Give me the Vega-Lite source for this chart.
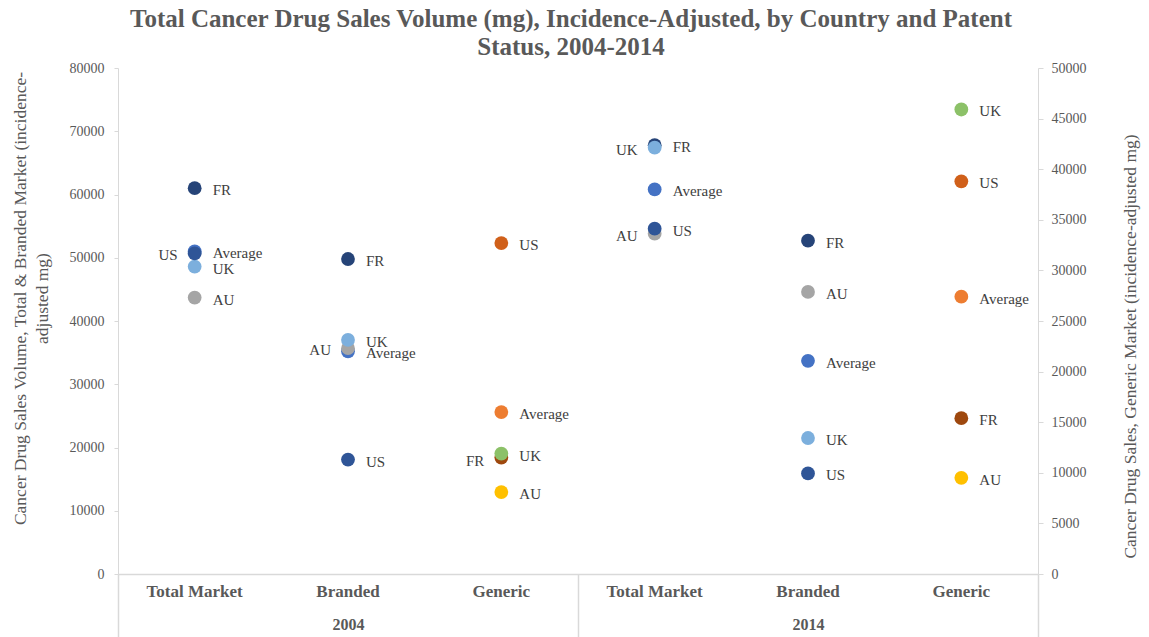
{
  "$schema": "https://vega.github.io/schema/vega-lite/v6.json",
  "width": 920,
  "height": 506,
  "autosize": "none",
  "padding": {"left": 118, "top": 68, "right": 111, "bottom": 63},
  "background": "white",
  "config": {
    "view": {"stroke": null},
    "font": "Liberation Serif",
    "title": {"font": "Liberation Serif", "fontSize": 25, "fontWeight": "bold", "color": "#595959", "lineHeight": 28}
  },
  "title": {
    "text": ["Total Cancer Drug Sales Volume (mg), Incidence-Adjusted, by Country and Patent", "Status, 2004-2014"],
    "anchor": "middle",
    "frame": "group",
    "offset": 1,
    "dx": -7
  },
  "data": {
    "values": [
      {"year": "2004", "market": "Total Market", "country": "Average", "mg": 51000},
      {"year": "2004", "market": "Total Market", "country": "AU", "mg": 43700},
      {"year": "2004", "market": "Total Market", "country": "FR", "mg": 61000},
      {"year": "2004", "market": "Total Market", "country": "UK", "mg": 48600},
      {"year": "2004", "market": "Total Market", "country": "US", "mg": 50700},
      {"year": "2004", "market": "Branded", "country": "Average", "mg": 35200},
      {"year": "2004", "market": "Branded", "country": "AU", "mg": 35700},
      {"year": "2004", "market": "Branded", "country": "FR", "mg": 49800},
      {"year": "2004", "market": "Branded", "country": "UK", "mg": 37000},
      {"year": "2004", "market": "Branded", "country": "US", "mg": 18100},
      {"year": "2004", "market": "Generic", "country": "Average", "mg": 16000},
      {"year": "2004", "market": "Generic", "country": "AU", "mg": 8100},
      {"year": "2004", "market": "Generic", "country": "FR", "mg": 11500},
      {"year": "2004", "market": "Generic", "country": "UK", "mg": 11900},
      {"year": "2004", "market": "Generic", "country": "US", "mg": 32700},
      {"year": "2014", "market": "Total Market", "country": "Average", "mg": 60800},
      {"year": "2014", "market": "Total Market", "country": "AU", "mg": 53800},
      {"year": "2014", "market": "Total Market", "country": "FR", "mg": 67800},
      {"year": "2014", "market": "Total Market", "country": "UK", "mg": 67400},
      {"year": "2014", "market": "Total Market", "country": "US", "mg": 54600},
      {"year": "2014", "market": "Branded", "country": "Average", "mg": 33700},
      {"year": "2014", "market": "Branded", "country": "AU", "mg": 44600},
      {"year": "2014", "market": "Branded", "country": "FR", "mg": 52700},
      {"year": "2014", "market": "Branded", "country": "UK", "mg": 21500},
      {"year": "2014", "market": "Branded", "country": "US", "mg": 15900},
      {"year": "2014", "market": "Generic", "country": "Average", "mg": 27400},
      {"year": "2014", "market": "Generic", "country": "AU", "mg": 9500},
      {"year": "2014", "market": "Generic", "country": "FR", "mg": 15400},
      {"year": "2014", "market": "Generic", "country": "UK", "mg": 45900},
      {"year": "2014", "market": "Generic", "country": "US", "mg": 38800}
    ]
  },
  "transform": [
    {"calculate": "datum.year + ' ' + datum.market", "as": "column"},
    {"calculate": "(datum.year == '2004' && datum.market == 'Total Market' && datum.country == 'US') || (datum.year == '2004' && datum.market == 'Branded' && datum.country == 'AU') || (datum.year == '2004' && datum.market == 'Generic' && datum.country == 'FR') || (datum.year == '2014' && datum.market == 'Total Market' && (datum.country == 'UK' || datum.country == 'AU'))", "as": "labelLeft"}
  ],
  "layer": [
    {
      "transform": [{"filter": "datum.market != 'Generic'"}],
      "mark": {"type": "point", "filled": true, "size": 190, "opacity": 1},
      "encoding": {
        "x": {
          "field": "column", "type": "nominal", "sort": null,
          "scale": {"type": "band", "paddingInner": 0, "paddingOuter": 0, "domain": ["2004 Total Market", "2004 Branded", "2004 Generic", "2014 Total Market", "2014 Branded", "2014 Generic"]},
          "axis": {
            "orient": "bottom", "title": null, "ticks": false, "domainColor": "#D9D9D9", "domainWidth": 1.5,
            "labelExpr": "substring(datum.value, 5)", "labelAngle": 0, "labelPadding": 9,
            "labelFont": "Liberation Serif", "labelFontSize": 17, "labelFontWeight": "bold", "labelColor": "#595959"
          }
        },
        "y": {
          "field": "mg", "type": "quantitative",
          "scale": {"domain": [0, 80000], "nice": false, "zero": true},
          "axis": {
            "orient": "left", "values": [0, 10000, 20000, 30000, 40000, 50000, 60000, 70000, 80000], "format": "d",
            "grid": false, "domainColor": "#D9D9D9", "tickColor": "#D9D9D9", "tickSize": 4, "labelPadding": 10,
            "labelFont": "Liberation Serif", "labelFontSize": 14, "labelColor": "#595959",
            "title": ["Cancer Drug Sales Volume, Total & Branded Market (incidence-", "adjusted mg)"],
            "titleFont": "Liberation Serif", "titleFontSize": 17.5, "titleFontWeight": "normal", "titleColor": "#595959",
            "titleAngle": 270, "titleBaseline": "middle", "titleLineHeight": 22, "titleX": -98, "titleY": 230, "titleAnchor": "middle"
          }
        },
        "color": {
          "field": "country", "type": "nominal", "legend": null,
          "scale": {"domain": ["FR", "US", "UK", "AU", "Average"], "range": ["#264478", "#2F5597", "#7CAFDD", "#A5A5A5", "#4472C4"]}
        }
      }
    },
    {
      "transform": [{"filter": "datum.market == 'Generic'"}],
      "mark": {"type": "point", "filled": true, "size": 190, "opacity": 1},
      "encoding": {
        "x": {
          "field": "column", "type": "nominal", "sort": null,
          "scale": {"type": "band", "paddingInner": 0, "paddingOuter": 0, "domain": ["2004 Total Market", "2004 Branded", "2004 Generic", "2014 Total Market", "2014 Branded", "2014 Generic"]},
          "axis": null
        },
        "y": {
          "field": "mg", "type": "quantitative",
          "scale": {"domain": [0, 50000], "nice": false, "zero": true},
          "axis": {
            "orient": "right", "values": [0, 5000, 10000, 15000, 20000, 25000, 30000, 35000, 40000, 45000, 50000], "format": "d",
            "grid": false, "domainColor": "#D9D9D9", "tickColor": "#D9D9D9", "tickSize": 5, "labelPadding": 8,
            "labelFont": "Liberation Serif", "labelFontSize": 14, "labelColor": "#595959",
            "title": "Cancer Drug Sales, Generic Market (incidence-adjusted mg)",
            "titleFont": "Liberation Serif", "titleFontSize": 17.5, "titleFontWeight": "normal", "titleColor": "#595959",
            "titleAngle": 270, "titleBaseline": "middle", "titleX": 92, "titleY": 278, "titleAnchor": "middle"
          }
        },
        "color": {
          "field": "country", "type": "nominal", "legend": null,
          "scale": {"domain": ["FR", "US", "UK", "AU", "Average"], "range": ["#9E480E", "#D0601A", "#8CC168", "#FFC000", "#ED7D31"]}
        }
      }
    },
    {
      "transform": [{"filter": "datum.market != 'Generic' && !datum.labelLeft"}],
      "mark": {"type": "text", "align": "left", "baseline": "middle", "dx": 18, "dy": 2, "font": "Liberation Serif", "fontSize": 15, "fill": "#404040"},
      "encoding": {
        "x": {"field": "column", "type": "nominal", "sort": null, "axis": null,
          "scale": {"type": "band", "paddingInner": 0, "paddingOuter": 0, "domain": ["2004 Total Market", "2004 Branded", "2004 Generic", "2014 Total Market", "2014 Branded", "2014 Generic"]}},
        "y": {"field": "mg", "type": "quantitative", "axis": null, "scale": {"domain": [0, 80000], "nice": false}},
        "text": {"field": "country"}
      }
    },
    {
      "transform": [{"filter": "datum.market != 'Generic' && datum.labelLeft"}],
      "mark": {"type": "text", "align": "right", "baseline": "middle", "dx": -17, "dy": 2, "font": "Liberation Serif", "fontSize": 15, "fill": "#404040"},
      "encoding": {
        "x": {"field": "column", "type": "nominal", "sort": null, "axis": null,
          "scale": {"type": "band", "paddingInner": 0, "paddingOuter": 0, "domain": ["2004 Total Market", "2004 Branded", "2004 Generic", "2014 Total Market", "2014 Branded", "2014 Generic"]}},
        "y": {"field": "mg", "type": "quantitative", "axis": null, "scale": {"domain": [0, 80000], "nice": false}},
        "text": {"field": "country"}
      }
    },
    {
      "transform": [{"filter": "datum.market == 'Generic' && !datum.labelLeft"}],
      "mark": {"type": "text", "align": "left", "baseline": "middle", "dx": 18, "dy": 2, "font": "Liberation Serif", "fontSize": 15, "fill": "#404040"},
      "encoding": {
        "x": {"field": "column", "type": "nominal", "sort": null, "axis": null,
          "scale": {"type": "band", "paddingInner": 0, "paddingOuter": 0, "domain": ["2004 Total Market", "2004 Branded", "2004 Generic", "2014 Total Market", "2014 Branded", "2014 Generic"]}},
        "y": {"field": "mg", "type": "quantitative", "axis": null, "scale": {"domain": [0, 50000], "nice": false}},
        "text": {"field": "country"}
      }
    },
    {
      "transform": [{"filter": "datum.market == 'Generic' && datum.labelLeft"}],
      "mark": {"type": "text", "align": "right", "baseline": "middle", "dx": -17, "dy": 3, "font": "Liberation Serif", "fontSize": 15, "fill": "#404040"},
      "encoding": {
        "x": {"field": "column", "type": "nominal", "sort": null, "axis": null,
          "scale": {"type": "band", "paddingInner": 0, "paddingOuter": 0, "domain": ["2004 Total Market", "2004 Branded", "2004 Generic", "2014 Total Market", "2014 Branded", "2014 Generic"]}},
        "y": {"field": "mg", "type": "quantitative", "axis": null, "scale": {"domain": [0, 50000], "nice": false}},
        "text": {"field": "country"}
      }
    },
    {
      "description": "Year axis: group labels and the separators between the two years",
      "mark": {"type": "point", "opacity": 0},
      "encoding": {
        "x": {
          "field": "year", "type": "nominal",
          "scale": {"type": "band", "paddingInner": 0, "paddingOuter": 0, "domain": ["2004", "2014"]},
          "axis": {
            "orient": "bottom", "title": null, "domain": false, "tickBand": "extent", "tickSize": 63,
            "tickColor": "#D9D9D9", "tickWidth": 1.5, "labelPadding": -21, "labelAngle": 0,
            "labelFont": "Liberation Serif", "labelFontSize": 16, "labelFontWeight": "bold", "labelColor": "#595959"
          }
        },
        "y": {"field": "mg", "type": "quantitative", "axis": null, "scale": {"domain": [0, 80000], "nice": false}}
      }
    }
  ],
  "resolve": {
    "scale": {"x": "independent", "y": "independent", "color": "independent"},
    "axis": {"x": "independent", "y": "independent"}
  }
}
